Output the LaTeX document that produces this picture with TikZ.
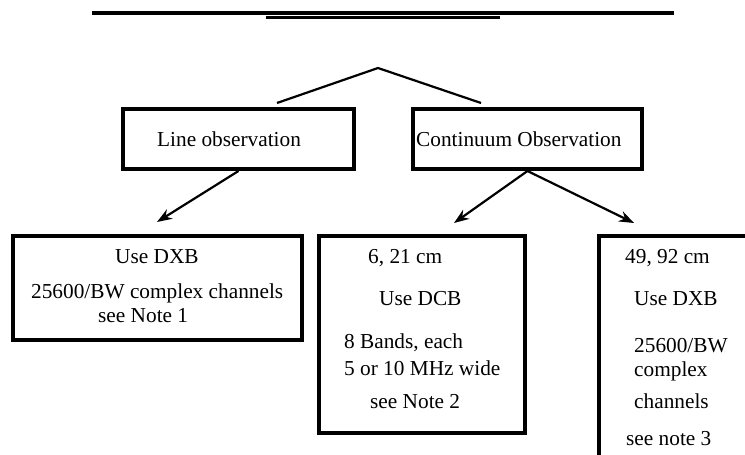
\documentclass[tikz,border=0pt]{standalone}
\usepackage{fontspec}
\setmainfont{Liberation Serif}
\usetikzlibrary{arrows.meta}

\begin{document}
\begin{tikzpicture}[x=1bp, y=-1bp,
    box/.style={draw, rectangle, line width=4bp, inner sep=0pt},
    lbl/.style={anchor=base west, inner sep=0pt, font=\fontsize{21.3bp}{24bp}\selectfont},
    link/.style={line width=2.2bp},
    >={Stealth[length=15bp, width=11bp]}]
	\useasboundingbox (0,0) rectangle (745,455);
	\clip (0,0) rectangle (745,455);
	
	% Heading rules
	\draw[line width=4bp] (92,13) -- (674,13);
	\draw[line width=3bp] (266,17.5) -- (500,17.5);
	
	% Branch
	\coordinate (apex) at (378,68);
	\coordinate (lineend) at (277,103);
	\coordinate (contend) at (481,103);
	\draw[link] (lineend) -- (apex) -- (contend);
	
	% Line observation
	\node[box, minimum width=231bp, minimum height=60bp] (linebox) at (238.5,139) {};
	\node[lbl] (linetxt) at (157,147) {Line observation};
	
	% Continuum observation
	\node[box, minimum width=229bp, minimum height=60bp] (contbox) at (527.5,139) {};
	\node[lbl] (conttxt) at (416,147) {Continuum Observation};
	
	% Arrows
	\coordinate (tipA) at (157,222);
	\coordinate (tipB) at (454,223);
	\coordinate (tipC) at (634,223);
	\draw[link, ->] (linebox.south) -- (tipA);
	\draw[link, ->] (contbox.south) -- (tipB);
	\draw[link, ->] (contbox.south) -- (tipC);
	
	% DXB for lines
	\node[box, minimum width=289bp, minimum height=104bp] (dxbline) at (157.5,288) {};
	\node[lbl] (dxbaone) at (115,264) {Use DXB};
	\node[lbl] (dxbatwo) at (31,299) {25600/BW complex channels};
	\node[lbl] (dxbathree) at (98,323) {see Note 1};
	
	% DCB for 6, 21 cm
	\node[box, minimum width=206bp, minimum height=197bp] (dcbcont) at (422,334.5) {};
	\node[lbl] (dcbone) at (368,264) {6, 21 cm};
	\node[lbl] (dcbtwo) at (379,306) {Use DCB};
	\node[lbl] (dcbthree) at (344,349) {8 Bands, each};
	\node[lbl] (dcbfour) at (344,375) {5 or 10 MHz wide};
	\node[lbl] (dcbfive) at (370,408) {see Note 2};
	
	% DXB for 49, 92 cm
	\node[box, minimum width=200bp, minimum height=300bp] (dxbcont) at (699,386) {};
	\node[lbl] (dxbcone) at (625,264) {49, 92 cm};
	\node[lbl] (dxbctwo) at (634,306) {Use DXB};
	\node[lbl] (dxbcthree) at (634,353) {25600/BW};
	\node[lbl] (dxbcfour) at (634,376) {complex};
	\node[lbl] (dxbcfive) at (634,408) {channels};
	\node[lbl] (dxbcsix) at (626,445) {see note 3};
\end{tikzpicture}
\end{document}
